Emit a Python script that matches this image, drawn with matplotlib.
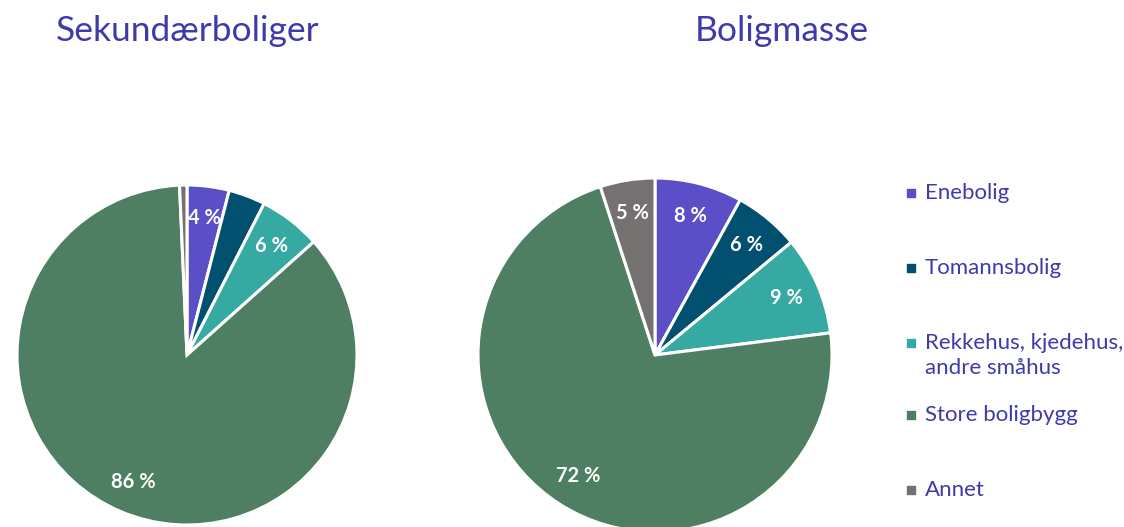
import matplotlib
matplotlib.use("Agg")
import matplotlib.pyplot as plt
import numpy as np

plt.rcParams["font.family"] = ["Lato", "DejaVu Sans"]

# Data ---------------------------------------------------------------
categories = ["Enebolig", "Tomannsbolig", "Rekkehus, kjedehus,\nandre småhus",
              "Store boligbygg", "Annet"]
sekundar = [4.0, 3.5, 5.9, 85.9, 0.7]
boligmasse = [8, 6, 9, 72, 5]
sekundar_labels = ["4 %", "", "6 %", "86 %", ""]
boligmasse_labels = ["8 %", "6 %", "9 %", "72 %", "5 %"]

colors = ["#5B4FC8", "#01506F", "#36AAA2", "#4E7F62", "#767171"]
TXT = "#3F3AAB"

W, H = 1124, 527
fig = plt.figure(figsize=(W / 100, H / 100), dpi=100)


def pie_axes(cx, cy, r):
    return fig.add_axes([(cx - r) / W, (H - cy - r) / H, 2 * r / W, 2 * r / H])


def draw_pie(ax, values, labels, dist):
    wedges, _ = ax.pie(values, colors=colors, startangle=90, counterclock=False,
                       wedgeprops=dict(edgecolor="white", linewidth=2.2))
    for w, lab in zip(wedges, labels):
        if not lab:
            continue
        ang = np.deg2rad((w.theta1 + w.theta2) / 2)
        ax.text(dist * np.cos(ang), dist * np.sin(ang), lab, color="white",
                fontsize=14.5, fontweight="bold", ha="center", va="center")
    ax.set_xlim(-1, 1)
    ax.set_ylim(-1, 1)
    ax.set_aspect("equal")
    ax.axis("off")


ax1 = pie_axes(187, 355, 170)
draw_pie(ax1, sekundar, sekundar_labels, 0.81)

ax2 = pie_axes(655, 355, 177)
draw_pie(ax2, boligmasse, boligmasse_labels, 0.81)

fig.text(188 / W, 1 - 31 / H, "Sekundærboliger", color=TXT, fontsize=25.5,
         ha="center", va="center")
fig.text(782 / W, 1 - 31 / H, "Boligmasse", color=TXT, fontsize=25.5,
         ha="center", va="center")

# legend drawn by hand to keep the uneven spacing
leg_y = [193, 268, 343, 415, 490]
lax = fig.add_axes([0, 0, 1, 1], facecolor="none")
lax.set_xlim(0, W)
lax.set_ylim(H, 0)
lax.axis("off")
for y, lab, c in zip(leg_y, categories, colors):
    lax.scatter([911], [y], marker="s", s=40, color=c)
    lax.text(925, y - 10, lab, color=TXT, fontsize=16, ha="left", va="top",
             linespacing=1.32)

fig.savefig("out.png", dpi=100)
